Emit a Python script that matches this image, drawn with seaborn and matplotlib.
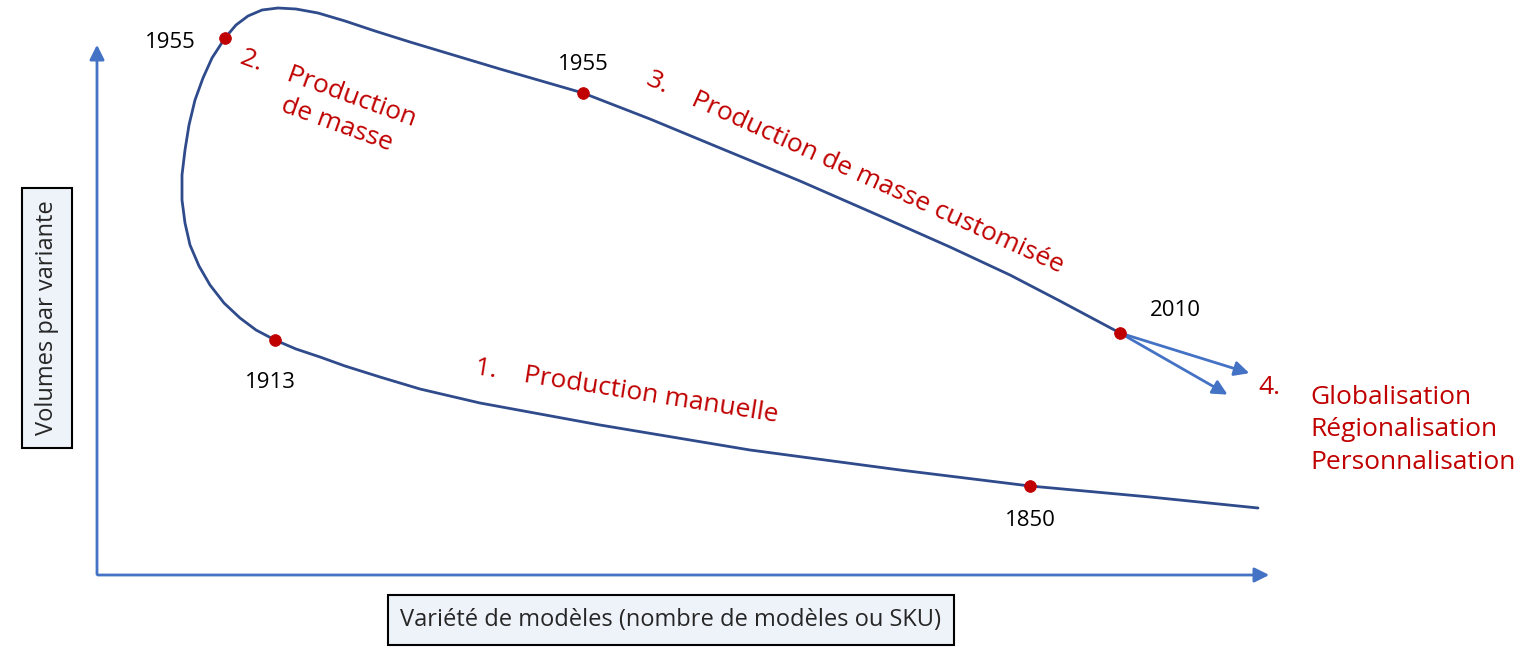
import numpy as np
import pandas as pd
import matplotlib
matplotlib.use('Agg')
import matplotlib.pyplot as plt
import seaborn as sns

sns.set_style('white')
plt.rcParams['font.family'] = ['Open Sans', 'DejaVu Sans']

# curve (pixel coords, y downwards)
curve_x = [1258, 1150, 1030, 900, 750, 600, 480, 420, 380, 345, 320, 296, 275, 256, 240, 224, 210, 199, 190, 185, 182, 182, 185, 189, 195, 203, 212, 225, 236, 248, 262, 278, 296, 318, 345, 375, 410, 450, 500, 583, 650, 720, 800, 880, 950, 1010, 1060, 1120]
curve_y = [508, 497, 486, 470, 450, 425, 403, 389, 377, 366, 357, 349, 340, 330, 318, 303, 285, 266, 245, 223, 200, 175, 150, 125, 100, 78, 58, 38, 25, 16, 10, 8, 9, 13, 21, 31, 42, 54, 69, 93, 119, 148, 181, 216, 247, 275, 301, 333]

years = ['1850', '1913', '1955', '1955', '2010']
year_x = [1030, 275, 225, 583, 1120]
year_y = [486, 340, 38, 93, 333]

blue = '#4472C4'
navy = '#2F4B8C'
red = '#C00000'

fig = plt.figure(figsize=(15.36, 6.62), dpi=100)
ax = fig.add_axes([0, 0, 1, 1])
ax.set_xlim(0, 1536)
ax.set_ylim(662, 0)
ax.axis('off')

curve = pd.DataFrame({'x': curve_x, 'y': curve_y})
sns.lineplot(data=curve, x='x', y='y', sort=False, estimator=None, color=navy, lw=2, ax=ax)
pts = pd.DataFrame({'x': year_x, 'y': year_y})
sns.scatterplot(data=pts, x='x', y='y', color=red, s=70, edgecolor=red, zorder=5, ax=ax)

# axes arrows
ap = dict(arrowstyle='-|>', color=blue, lw=2, mutation_scale=22)
ax.annotate('', xy=(97, 42), xytext=(97, 577), arrowprops=ap)
ax.annotate('', xy=(1272, 575), xytext=(95, 575), arrowprops=ap)
ax.annotate('', xy=(1252, 374), xytext=(1120, 333), arrowprops=ap)
ax.annotate('', xy=(1230, 396), xytext=(1120, 333), arrowprops=ap)

# year labels
offs = [(0, 35), (-5, 42), (-55, 5), (0, -28), (55, -22)]
for t, x, y, (dx, dy) in zip(years, year_x, year_y, offs):
    ax.text(x + dx, y + dy, t, fontsize=16, ha='center', va='center', color='black')

ax.text(245, 45, '2.    Production\n        de masse', fontsize=19, color=red, rotation=-20,
        rotation_mode='anchor', ha='left', va='top', linespacing=1.3)
ax.text(648, 78, '3.    Production de masse customisée', fontsize=19, color=red, rotation=-24.5,
        rotation_mode='anchor', ha='left', va='center')
ax.text(475, 368, '1.    Production manuelle', fontsize=19, color=red, rotation=-9,
        rotation_mode='anchor', ha='left', va='center')
ax.text(1258, 388, '4.', fontsize=19, color=red, ha='left', va='center')
ax.text(1310, 430, 'Globalisation\nRégionalisation\nPersonnalisation', fontsize=19, color=red,
        ha='left', va='center', linespacing=1.4)

box = dict(boxstyle='square,pad=0.55', fc='#EEF3FA', ec='black', lw=1.5)
ax.text(47, 318, 'Volumes par variante', fontsize=17, rotation=90, ha='center', va='center', bbox=box)
ax.text(671, 620, 'Variété de modèles (nombre de modèles ou SKU)', fontsize=17, ha='center', va='center', bbox=box)

fig.savefig('out.png', dpi=100, facecolor='white')
